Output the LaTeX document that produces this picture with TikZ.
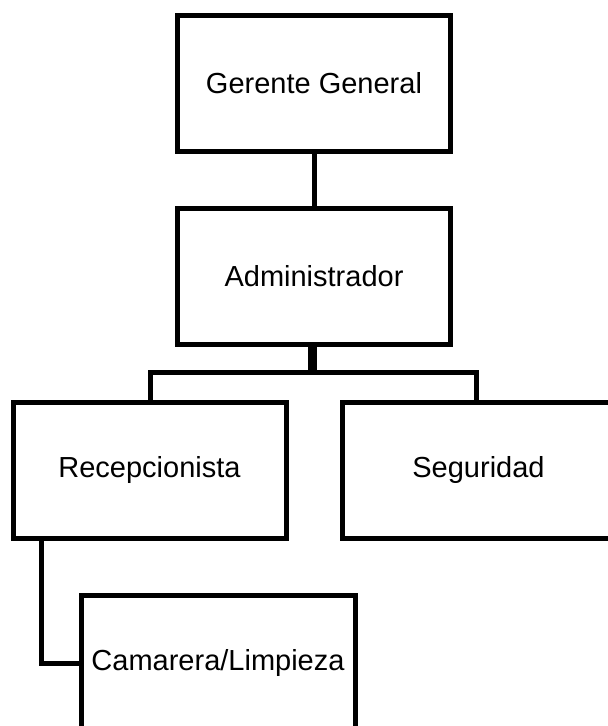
\documentclass[tikz,border=0pt]{standalone}
\usepackage{fontspec}
\setmainfont{Liberation Sans}
\usetikzlibrary{positioning}

\tikzset{
	puesto/.style={draw, line width=5pt, minimum width=273pt, minimum height=136pt,
		inner sep=0pt, font=\fontsize{29}{34}\selectfont},
	rama/.style={line width=5pt}
}

\begin{document}
\begin{tikzpicture}[x=1pt, y=-1pt]
	\useasboundingbox (0,0) rectangle (608,726);
	\node[puesto] (gerente) at (314,83) {Gerente General};
	\node[puesto] (admin) at (314,276) {Administrador};
	\node[puesto] (recep) at (149.5,470) {Recepcionista};
	\node[puesto] (seguridad) at (478.5,470) {Seguridad};
	\node[puesto, minimum width=274pt] (camarera) at (218,663) {Camarera/Limpieza};
	
	\coordinate (barra) at (312.5,372);
	\coordinate (bizq) at (150,372);
	\coordinate (bder) at (476,372);
	\coordinate (rbajo) at (41,538);
	
	\draw[rama] (gerente.south) -- (admin.north);
	\draw[line width=9pt] (admin.south -| barra) -- (barra);
	\draw[rama] (recep.north -| bizq) -- (bizq) -- (bder) -- (seguridad.north -| bder);
	\draw[rama] (rbajo) |- (camarera.west);
\end{tikzpicture}
\end{document}
